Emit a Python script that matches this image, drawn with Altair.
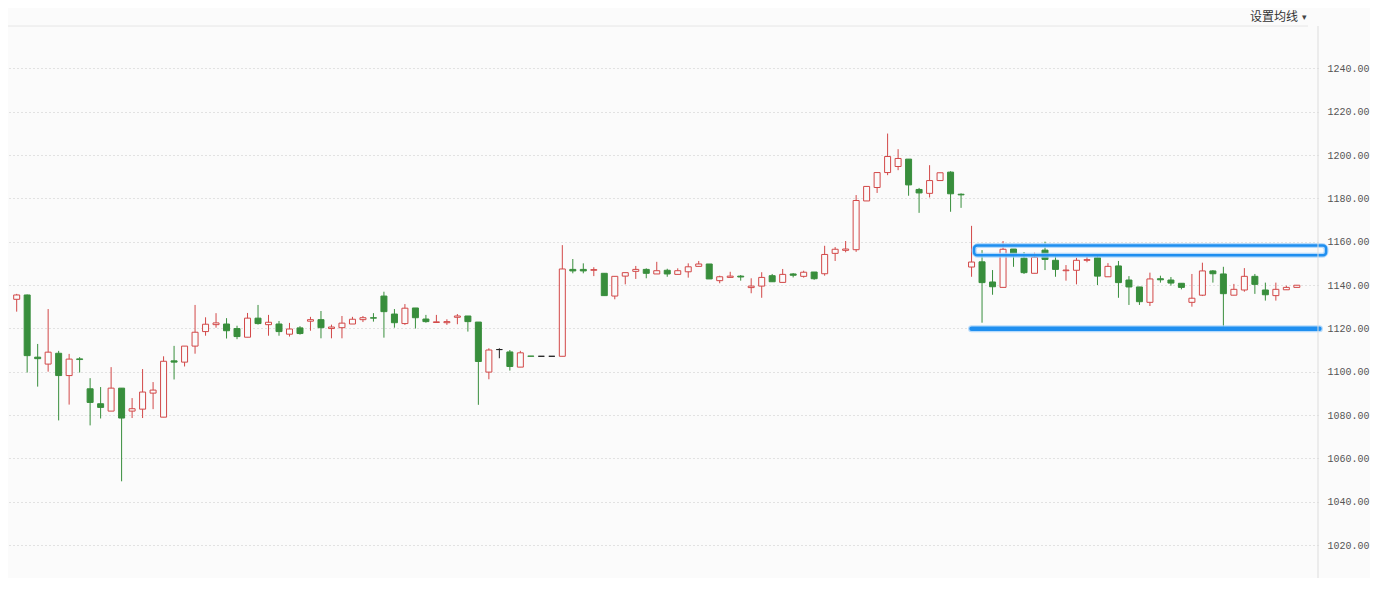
import altair as alt
import pandas as pd

# ---- candle data ----
opens = [1133.4, 1135.4, 1106.7, 1103.5, 1108.5, 1098.2, 1105.9, 1092.1, 1085.2, 1081.8,
         1092.4, 1081.8, 1082.7, 1090.1, 1079.0, 1105.0, 1104.4, 1111.8, 1118.5, 1121.7,
         1122.0, 1119.9, 1115.9, 1124.7, 1121.7, 1122.0, 1117.3, 1120.2, 1123.3, 1124.0,
         1119.9, 1120.3, 1122.0, 1124.0, 1124.9, 1134.9, 1126.6, 1122.2, 1129.4, 1124.3,
         1122.7, 1122.6, 1125.1, 1125.7, 1122.9, 1099.8, 1110.2, 1109.1, 1102.1, 1107.2,
         1107.1, 1107.1, 1107.1, 1147.2, 1147.2, 1146.8, 1145.4, 1134.9, 1144.1, 1146.3,
         1147.2, 1145.1, 1146.8, 1144.9, 1146.1, 1148.6, 1149.7, 1142.0, 1143.5, 1144.1,
         1138.8, 1139.5, 1144.3, 1141.2, 1145.1, 1144.0, 1146.0, 1145.2, 1154.6, 1156.0,
         1156.3, 1178.8, 1185.0, 1191.9, 1194.7, 1198.1, 1184.1, 1182.3, 1188.2, 1192.1,
         1181.9, 1148.3, 1150.7, 1141.4, 1138.9, 1156.6, 1152.4, 1145.4, 1156.1, 1151.4,
         1146.6, 1146.8, 1151.4, 1152.6, 1143.8, 1148.8, 1142.3, 1139.1, 1132.0, 1142.9,
         1142.3, 1140.8, 1132.0, 1135.3, 1146.5, 1145.1, 1135.3, 1137.7, 1144.0, 1137.7,
         1135.1, 1137.8, 1138.9]
highs = [1135.9, 1135.6, 1112.8, 1128.9, 1109.6, 1108.2, 1106.7, 1097.0, 1092.9, 1102.1,
         1092.4, 1087.8, 1101.2, 1095.2, 1107.1, 1111.9, 1111.8, 1130.8, 1125.1, 1127.0,
         1124.7, 1121.2, 1127.1, 1130.8, 1126.2, 1123.4, 1122.5, 1121.0, 1125.3, 1128.0,
         1121.7, 1125.7, 1125.3, 1125.7, 1127.0, 1136.9, 1128.9, 1131.2, 1129.4, 1126.2,
         1126.2, 1124.2, 1126.6, 1125.7, 1122.9, 1110.8, 1110.8, 1110.0, 1109.6, 1107.2,
         1107.1, 1107.1, 1158.4, 1152.0, 1150.0, 1148.2, 1145.4, 1144.0, 1145.7, 1148.8,
         1147.7, 1150.7, 1147.5, 1147.7, 1150.0, 1151.1, 1149.7, 1144.3, 1146.1, 1144.6,
         1143.1, 1145.9, 1145.1, 1147.4, 1145.5, 1146.6, 1146.0, 1158.1, 1157.5, 1160.3,
         1181.5, 1185.5, 1191.9, 1209.9, 1202.7, 1198.1, 1184.8, 1195.3, 1191.8, 1192.5,
         1182.3, 1167.3, 1156.1, 1146.9, 1160.3, 1156.6, 1155.2, 1154.9, 1160.0, 1154.3,
         1149.2, 1152.6, 1153.0, 1153.5, 1150.1, 1151.1, 1144.1, 1139.1, 1145.7, 1144.3,
         1143.7, 1140.8, 1145.1, 1150.3, 1146.9, 1148.4, 1140.5, 1147.8, 1145.1, 1141.1,
         1141.1, 1139.7, 1139.9]
lows = [1127.7, 1099.6, 1093.1, 1100.0, 1077.5, 1084.8, 1099.6, 1075.2, 1078.4, 1081.8,
        1049.4, 1078.6, 1078.6, 1082.7, 1079.0, 1096.4, 1102.4, 1108.3, 1116.6, 1120.3,
        1115.3, 1115.0, 1115.9, 1121.7, 1116.6, 1116.6, 1116.2, 1117.1, 1118.9, 1115.4,
        1115.4, 1115.4, 1122.0, 1122.9, 1123.1, 1115.7, 1120.3, 1121.6, 1119.9, 1122.6,
        1122.7, 1121.6, 1121.9, 1118.5, 1084.7, 1096.5, 1106.2, 1100.5, 1102.1, 1107.1,
        1107.1, 1107.1, 1107.1, 1145.4, 1145.4, 1144.1, 1135.1, 1133.4, 1140.3, 1142.8,
        1143.1, 1145.1, 1143.8, 1144.9, 1143.4, 1148.6, 1142.8, 1140.8, 1143.5, 1142.0,
        1136.2, 1134.1, 1141.5, 1141.2, 1143.5, 1143.4, 1142.4, 1144.3, 1151.1, 1155.1,
        1155.3, 1178.8, 1182.5, 1190.7, 1193.0, 1181.2, 1173.3, 1180.4, 1188.2, 1173.8,
        1175.6, 1143.8, 1122.6, 1135.5, 1138.9, 1148.4, 1145.1, 1145.4, 1146.9, 1143.8,
        1142.0, 1140.3, 1150.5, 1140.0, 1143.8, 1134.1, 1130.8, 1130.8, 1130.3, 1141.1,
        1139.7, 1138.0, 1130.0, 1134.9, 1141.1, 1120.0, 1135.3, 1136.9, 1135.9, 1132.8,
        1132.8, 1137.7, 1138.9]
closes = [1135.4, 1107.4, 1106.0, 1109.0, 1098.2, 1105.8, 1105.6, 1085.8, 1083.5, 1092.4,
          1078.6, 1082.9, 1090.6, 1091.5, 1104.8, 1104.4, 1111.8, 1118.2, 1121.9, 1122.5,
          1118.9, 1116.2, 1124.7, 1122.2, 1122.8, 1118.5, 1119.7, 1117.6, 1124.0, 1120.3,
          1120.6, 1122.4, 1124.2, 1124.9, 1124.7, 1127.7, 1122.6, 1129.3, 1124.9, 1123.1,
          1123.0, 1123.1, 1125.7, 1123.1, 1104.7, 1110.0, 1110.2, 1102.4, 1108.7, 1107.1,
          1107.1, 1107.1, 1147.4, 1146.5, 1146.5, 1147.1, 1135.1, 1144.0, 1145.7, 1147.2,
          1145.4, 1146.6, 1145.1, 1146.6, 1148.4, 1149.7, 1142.8, 1143.8, 1144.1, 1143.7,
          1139.5, 1143.5, 1141.5, 1144.9, 1144.5, 1145.9, 1142.9, 1154.1, 1156.5, 1156.6,
          1179.0, 1185.5, 1191.9, 1199.3, 1198.4, 1186.2, 1182.5, 1188.2, 1191.8, 1182.1,
          1181.6, 1150.6, 1141.1, 1139.2, 1156.5, 1153.5, 1145.7, 1152.8, 1151.8, 1147.2,
          1146.9, 1151.4, 1151.7, 1144.1, 1148.6, 1141.1, 1139.1, 1132.3, 1142.8, 1142.4,
          1140.9, 1138.9, 1133.9, 1146.5, 1145.2, 1136.0, 1138.0, 1144.0, 1140.3, 1135.5,
          1138.0, 1138.9, 1139.9]

# annotation boxes (candle-index span and price span)
box_x1 = [91.24, 90.9]
box_x2 = [124.79, 124.25]
box_y1 = [1158.2, 1120.3]
box_y2 = [1153.7, 1119.3]

tick_values = [1020, 1040, 1060, 1080, 1100, 1120, 1140, 1160, 1180, 1200, 1220, 1240]
menu_label = ["设置均线"]

RED = "#d24848"
GREEN = "#388e3c"
BLACK = "#222222"
BG = "#fbfbfb"
BLUE = "#1f8ff0"
GLOW = "#a6d3fb"

n = len(opens)
df = pd.DataFrame({"i": list(range(n)), "open": opens, "high": highs,
                   "low": lows, "close": closes})
df["dir"] = ["up" if c > o else ("down" if c < o else "flat")
             for o, c in zip(opens, closes)]

boxes = pd.DataFrame({"x1": box_x1, "x2": box_x2, "y1": box_y1, "y2": box_y2})

W, H = 1310, 570
xs = alt.Scale(domain=[-0.35, 123.54], nice=False, zero=False)
ys = alt.Scale(domain=[1004.77, 1267.85], nice=False, zero=False)
dirs = ["up", "down", "flat"]

yaxis = alt.Axis(orient="right", values=tick_values, format=".2f", ticks=False,
                 domain=False, labelPadding=9, labelFont="Liberation Mono",
                 labelFontSize=10, labelColor="#555555", grid=True,
                 gridColor="#c9c9c9", gridDash=[1, 3], gridWidth=1, title=None)

base = alt.Chart(df)

wick = base.mark_rule(strokeWidth=1).encode(
    x=alt.X("i:Q", scale=xs, axis=None),
    y=alt.Y("low:Q", scale=ys, axis=yaxis),
    y2="high:Q",
    color=alt.Color("dir:N", scale=alt.Scale(domain=dirs, range=[RED, GREEN, BLACK]), legend=None),
)

body = base.mark_bar(size=6, strokeWidth=1).encode(
    x=alt.X("i:Q", scale=xs, axis=None),
    y=alt.Y("open:Q", scale=ys, axis=yaxis),
    y2="close:Q",
    fill=alt.Fill("dir:N", scale=alt.Scale(domain=dirs, range=[BG, GREEN, BLACK]), legend=None),
    stroke=alt.Stroke("dir:N", scale=alt.Scale(domain=dirs, range=[RED, GREEN, BLACK]), legend=None),
)

box_glow = alt.Chart(boxes).mark_rect(fillOpacity=0, stroke=GLOW, strokeWidth=5,
                                      cornerRadius=4, strokeOpacity=0.8).encode(
    x=alt.X("x1:Q", scale=xs, axis=None), x2="x2:Q",
    y=alt.Y("y1:Q", scale=ys, axis=yaxis), y2="y2:Q",
)
box_line = alt.Chart(boxes).mark_rect(fillOpacity=0, stroke=BLUE, strokeWidth=2.5,
                                      cornerRadius=3).encode(
    x=alt.X("x1:Q", scale=xs, axis=None), x2="x2:Q",
    y=alt.Y("y1:Q", scale=ys, axis=yaxis), y2="y2:Q",
)

header_line = alt.Chart(pd.DataFrame({"k": [0]})).mark_rule(color="#e6e6e6", strokeWidth=1).encode(
    x=alt.value(0), x2=alt.value(1300), y=alt.value(18)
)
axis_line = alt.Chart(pd.DataFrame({"k": [0]})).mark_rule(color="#dddddd", strokeWidth=1).encode(
    x=alt.value(W), y=alt.value(18), y2=alt.value(H)
)

menu = alt.Chart(pd.DataFrame({"t": menu_label})).mark_text(
    align="left", baseline="middle", font="Noto Sans CJK SC", fontSize=12, color="#333333"
).encode(x=alt.value(1242), y=alt.value(9), text="t:N")
arrow = alt.Chart(pd.DataFrame({"t": ["▾"]})).mark_text(
    align="left", baseline="middle", font="DejaVu Sans", fontSize=9, color="#444444"
).encode(x=alt.value(1294), y=alt.value(9), text="t:N")

chart = alt.layer(wick, body, box_glow, box_line, header_line, axis_line, menu, arrow).properties(
    width=W, height=H,
    background=BG,
    padding={"left": 0, "top": 0, "right": 52, "bottom": 0},
    autosize=alt.AutoSizeParams(type="none"),
).configure_view(stroke=None)

chart.save("out.html", embed_options={"renderer": "svg", "actions": False})
